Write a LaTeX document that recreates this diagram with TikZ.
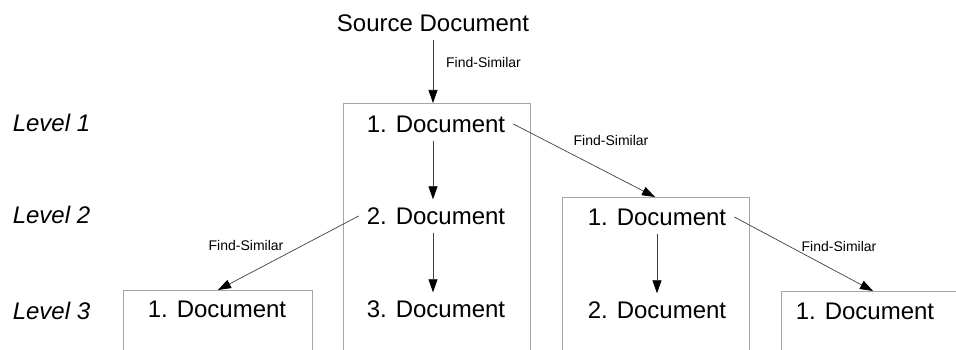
\documentclass[tikz,border=0pt]{standalone}
\usepackage{fontspec}
\setmainfont{Liberation Sans}
\usetikzlibrary{arrows.meta}
\begin{document}
\begin{tikzpicture}[x=1pt,y=-1pt,
  doc/.style={font=\fontsize{24}{28}\selectfont, inner sep=8pt},
  lvl/.style={font=\fontsize{24}{28}\selectfont\itshape, inner sep=0pt},
  fs/.style={font=\fontsize{14}{16}\selectfont, inner sep=0pt},
  arr/.style={draw=black!75, line width=0.7pt, -{Triangle[length=13pt,width=9pt,color=black]}},
  docbox/.style={draw=black!35, line width=0.8pt}]
\useasboundingbox[fill=white] (0,0) rectangle (956,350);

% level labels
\node[lvl] (l1) at (51.5,123) {Level 1};
\node[lvl] (l2) at (51.5,215) {Level 2};
\node[lvl] (l3) at (51.5,311) {Level 3};

% boxes (open at the bottom)
\draw[docbox] (343,350) |- (530,103) -- (530,350);
\draw[docbox] (562,350) |- (749,197) -- (749,350);
\draw[docbox] (123,350) |- (312,290) -- (312,350);
\draw[docbox] (781,350) |- (956,291);

\coordinate (t1) at (433,103);
\coordinate (t2) at (655,197);
\coordinate (tl) at (218,290);
\coordinate (t3) at (873,291);

% nodes
\node[doc, inner sep=8pt] (src) at (433,23) {Source Document};
\node[doc] (d11) at (436,124) {1. Document};
\node[doc] (d12) at (436,216) {2. Document};
\node[doc] (d13) at (436,309) {3. Document};
\node[doc] (e1) at (657,217) {1. Document};
\node[doc] (e2) at (657,310) {2. Document};
\node[doc] (f1) at (217,309) {1. Document};
\node[doc] (g1) at (865,311) {1. Document};

% connectors
\draw[arr] (src.south) -- (t1);
\draw[arr] ([xshift=-3pt]d11.south) -- ([xshift=-3pt]d12.north);
\draw[arr] ([xshift=-3pt]d12.south) -- ([xshift=-3pt]d13.north);
\draw[arr] (e1.south) -- (e2.north);
\draw[arr] (d11.east) -- (t2);
\draw[arr] (e1.east) -- (t3);
\draw[arr] (d12.west) -- (tl);

% labels
\node[fs] (fs1) at (483.5,62) {Find-Similar};
\node[fs] (fs2) at (611,140) {Find-Similar};
\node[fs] (fs3) at (839,246) {Find-Similar};
\node[fs] (fs4) at (246,245) {Find-Similar};
\end{tikzpicture}
\end{document}
